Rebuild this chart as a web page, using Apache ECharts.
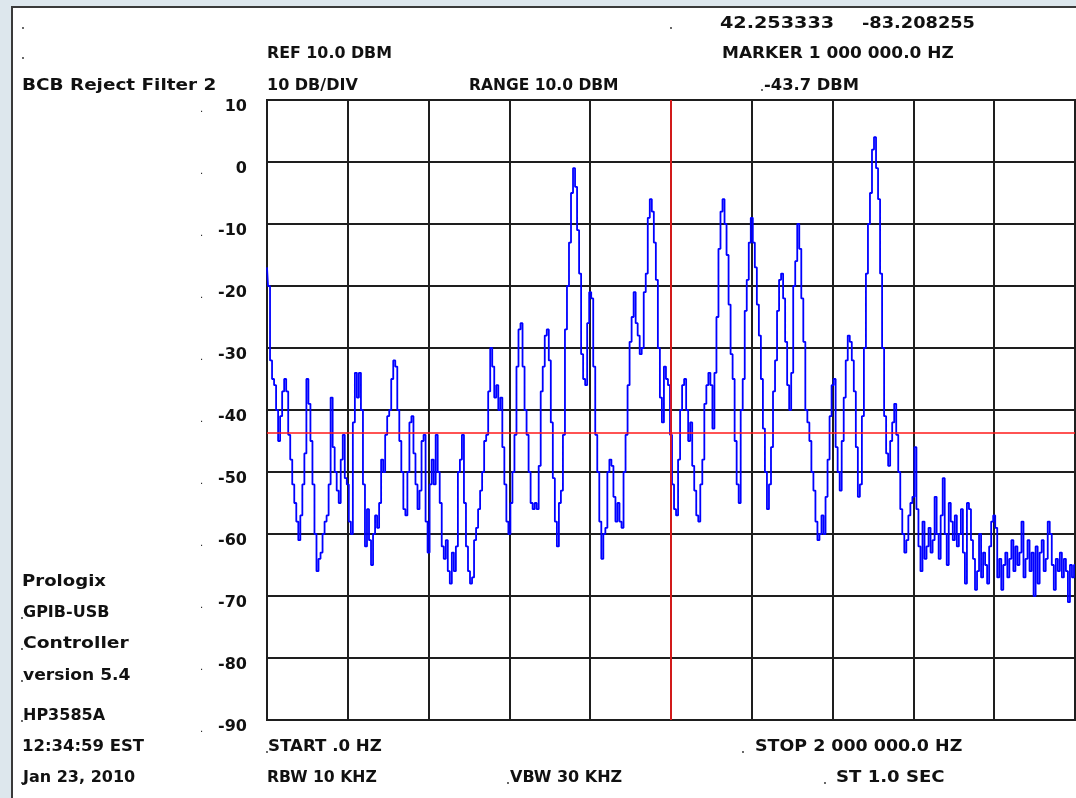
<!DOCTYPE html>
<html>
<head>
<meta charset="utf-8">
<script src="https://cdn.jsdelivr.net/npm/echarts@6/dist/echarts.min.js"></script>
<style>
html,body{margin:0;padding:0;background:#dde7ed;}
#chart{width:1076px;height:798px;}
</style>
</head>
<body>
<div id="chart"></div>
<script>
// ---- Sweep settings ----
const START_HZ = 0;
const STOP_HZ = 2000000;
const FREQ_DIV_HZ = 200000;
const REF_DBM = 10;
const BOTTOM_DBM = -90;
const DB_PER_DIV = 10;
const MARKER_HZ = 1000000;
const MARKER_DBM = -43.7;

// ---- Trace amplitude readings (dBm), one block per horizontal division ----
const div0 = [-17,-20,-32,-35,-36,-40,-45,-41,-37,-35,-37,-44,-48,-52,-55,-58,-61,-57,-52,-47,-35,-39,-45,-52,-60,-66,-64,-63,-60,-58,-57,-52,-38,-46,-50,-53,-55,-48,-44,-51];
const div1 = [-52,-58,-60,-42,-34,-38,-34,-40,-52,-62,-56,-61,-65,-60,-57,-59,-55,-48,-50,-44,-41,-40,-35,-32,-33,-40,-45,-50,-56,-57,-50,-42,-41,-47,-52,-56,-53,-45,-44,-58];
const div2 = [-63,-52,-48,-52,-44,-50,-55,-62,-64,-61,-66,-68,-63,-66,-62,-50,-48,-44,-55,-62,-66,-68,-67,-61,-59,-56,-53,-50,-45,-44,-37,-30,-33,-38,-36,-40,-38,-46,-52,-58];
const div3 = [-60,-55,-50,-44,-33,-27,-26,-33,-40,-44,-50,-55,-56,-55,-56,-49,-37,-33,-28,-27,-32,-42,-51,-58,-62,-55,-53,-44,-27,-20,-13,-5,-1,-4,-11,-18,-31,-35,-36,-26];
const div4 = [-21,-22,-33,-44,-50,-58,-64,-60,-59,-50,-48,-49,-54,-58,-55,-58,-59,-50,-44,-36,-29,-25,-21,-26,-28,-31,-30,-21,-18,-9,-6,-8,-13,-19,-30,-38,-42,-33,-35,-36];
const div5 = [-44,-52,-56,-57,-48,-40,-36,-35,-40,-45,-42,-49,-53,-57,-58,-52,-48,-39,-36,-34,-36,-43,-34,-25,-14,-8,-6,-10,-15,-23,-31,-35,-45,-52,-55,-40,-35,-24,-19,-13];
const div6 = [-9,-13,-17,-23,-28,-35,-43,-50,-56,-52,-46,-37,-32,-24,-19,-18,-22,-29,-36,-40,-34,-20,-16,-10,-14,-22,-29,-40,-42,-45,-50,-53,-58,-61,-60,-57,-60,-54,-48,-41];
const div7 = [-36,-35,-46,-50,-53,-45,-38,-32,-28,-29,-32,-37,-46,-54,-52,-41,-30,-18,-10,-5,2,4,-1,-6,-18,-30,-41,-47,-49,-45,-42,-39,-44,-50,-56,-60,-63,-61,-57,-55];
const div8 = [-54,-46,-56,-62,-66,-58,-64,-62,-59,-63,-61,-54,-60,-64,-57,-51,-60,-65,-55,-58,-61,-57,-62,-60,-56,-63,-68,-55,-56,-61,-64,-69,-66,-60,-67,-63,-65,-68,-62,-58];
const div9 = [-57,-59,-67,-64,-69,-65,-63,-67,-64,-61,-66,-62,-65,-63,-58,-67,-64,-61,-66,-63,-70,-62,-68,-63,-61,-66,-64,-58,-60,-65,-69,-64,-66,-63,-67,-64,-66,-71,-65,-67,-65];

// ---- Texts ----
const coordTexts = ['42.253333', '-83.208255'];
const refText = 'REF 10.0 DBM';
const markerFreqText = 'MARKER 1 000 000.0 HZ';
const titleText = 'BCB Reject Filter 2';
const scaleText = '10 DB/DIV';
const rangeText = 'RANGE 10.0 DBM';
const markerLevelText = '-43.7 DBM';
const infoLines = ['Prologix', 'GPIB-USB', 'Controller', 'version 5.4', 'HP3585A', '12:34:59 EST', 'Jan 23, 2010'];
const startText = 'START .0 HZ';
const stopText = 'STOP 2 000 000.0 HZ';
const rbwText = 'RBW 10 KHZ';
const vbwText = 'VBW 30 KHZ';
const sweepText = 'ST 1.0 SEC';

const traceDb = [].concat(div0, div1, div2, div3, div4, div5, div6, div7, div8, div9);
const stepHz = (STOP_HZ - START_HZ) / (traceDb.length - 1);
const traceData = traceDb.map((v, i) => [START_HZ + i * stepHz, v]);

const FONT = '"DejaVu Sans", "Liberation Sans", sans-serif';
const INK = '#111111';
function txt(s, x, y, sx) {
  return {
    type: 'text', x: x, y: y, z: 50, scaleX: sx || 1,
    style: {
      text: s, fill: INK, fontFamily: FONT, fontWeight: 'bold',
      fontSize: 16, align: 'left', verticalAlign: 'middle'
    }
  };
}
function dot(x, y) {
  return { type: 'circle', z: 50, shape: { cx: x, cy: y, r: 0.9 }, style: { fill: '#222' } };
}

const graphics = [
  { type: 'rect', z: -10, shape: { x: 12, y: 7, width: 1100, height: 820 },
    style: { fill: '#ffffff', stroke: '#3a3a3a', lineWidth: 2 } },
  dot(23, 28), dot(23, 58), dot(671, 28),
  txt(coordTexts[0], 720, 24, 1.2),
  txt(coordTexts[1], 862, 24, 1.11),
  txt(refText, 267, 54, 0.99),
  txt(markerFreqText, 722, 54, 1.06),
  txt(titleText, 22, 86, 1.15),
  txt(scaleText, 267, 86),
  txt(rangeText, 469, 86, 0.97),
  dot(762, 90),
  txt(markerLevelText, 764, 86, 1.02),
  txt(infoLines[0], 22, 582, 1.13),
  dot(22, 618), txt(infoLines[1], 23, 613),
  dot(22, 649), txt(infoLines[2], 23, 644, 1.17),
  dot(22, 681), txt(infoLines[3], 23, 676, 1.07),
  dot(22, 721), txt(infoLines[4], 23, 716),
  txt(infoLines[5], 22, 747, 1.03),
  dot(22, 783), txt(infoLines[6], 23, 778),
  dot(267, 752), txt(startText, 268, 747, 1.04),
  dot(743, 752), txt(stopText, 755, 747, 1.09),
  txt(rbwText, 267, 778, 0.98),
  dot(508, 783), txt(vbwText, 510, 778),
  dot(825, 783), txt(sweepText, 836, 778, 1.13)
];

const chart = echarts.init(document.getElementById('chart'), null, { renderer: 'canvas' });
chart.setOption({
  animation: false,
  backgroundColor: 'transparent',
  grid: {
    left: 267, top: 100, width: 808, height: 620,
    show: true, borderColor: '#1e1e1e', borderWidth: 2, backgroundColor: 'transparent'
  },
  xAxis: {
    type: 'value', min: START_HZ, max: STOP_HZ, interval: FREQ_DIV_HZ,
    axisLine: { show: false }, axisTick: { show: false }, axisLabel: { show: false },
    splitLine: { show: true, lineStyle: { color: '#1e1e1e', width: 2 } }
  },
  yAxis: {
    type: 'value', min: BOTTOM_DBM, max: REF_DBM, interval: DB_PER_DIV,
    axisLine: { show: false }, axisTick: { show: false },
    splitLine: { show: true, lineStyle: { color: '#1e1e1e', width: 2 } },
    axisLabel: {
      show: true, showMinLabel: true, showMaxLabel: true, margin: 20,
      verticalAlign: 'top', lineHeight: 14,
      formatter: v => '{d|.}{v|' + v + '}',
      rich: {
        d: { width: 13, align: 'left', fontSize: 10, fontFamily: FONT, color: '#222', lineHeight: 14, verticalAlign: 'bottom' },
        v: { width: 34, align: 'right', fontSize: 16, fontWeight: 'bold', fontFamily: FONT, color: INK, lineHeight: 14 }
      }
    }
  },
  graphic: graphics,
  series: [{
    type: 'line',
    data: traceData,
    step: 'middle',
    showSymbol: false,
    symbol: 'none',
    lineStyle: { color: '#0000ff', width: 1.8 },
    z: 3,
    markLine: {
      silent: true, symbol: 'none', animation: false,
      label: { show: false },
      lineStyle: { color: '#ff1a1a', width: 1.6, type: 'solid' },
      data: [{ xAxis: MARKER_HZ }, { yAxis: MARKER_DBM }]
    }
  }]
});
</script>
</body>
</html>
